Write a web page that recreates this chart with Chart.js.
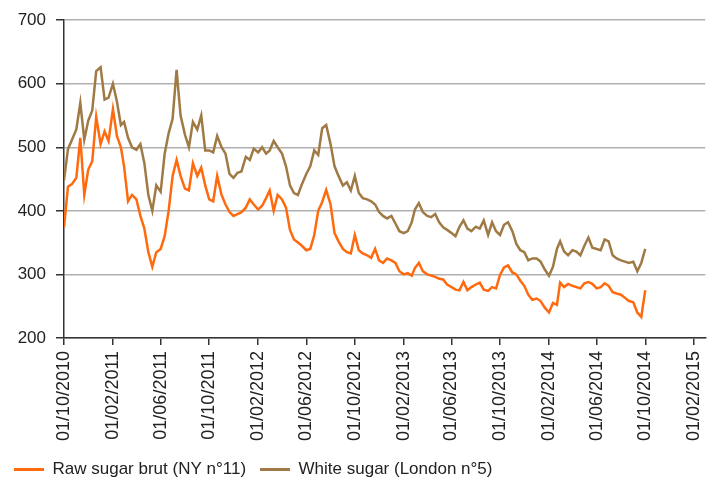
<!DOCTYPE html>
<html lang="en">
<head>
<meta charset="UTF-8">
<title>Raw vs white sugar</title>
<script src="https://cdn.jsdelivr.net/npm/chart.js@4.4.0/dist/chart.umd.min.js"></script>
<style>
  html, body { margin: 0; padding: 0; background: #fff; }
</style>
</head>
<body>
<canvas id="sugar" width="722" height="490"></canvas>
<script>
    // price dates, 3 per month (dd/mm/yyyy)
    const dates = [
        '01/10/2010','11/10/2010','21/10/2010','01/11/2010','11/11/2010','21/11/2010','01/12/2010','11/12/2010','21/12/2010',
        '01/01/2011','11/01/2011','21/01/2011','01/02/2011','11/02/2011','21/02/2011','01/03/2011','11/03/2011','21/03/2011',
        '01/04/2011','11/04/2011','21/04/2011','01/05/2011','11/05/2011','21/05/2011','01/06/2011','11/06/2011','21/06/2011',
        '01/07/2011','11/07/2011','21/07/2011','01/08/2011','11/08/2011','21/08/2011','01/09/2011','11/09/2011','21/09/2011',
        '01/10/2011','11/10/2011','21/10/2011','01/11/2011','11/11/2011','21/11/2011','01/12/2011','11/12/2011','21/12/2011',
        '01/01/2012','11/01/2012','21/01/2012','01/02/2012','11/02/2012','21/02/2012','01/03/2012','11/03/2012','21/03/2012',
        '01/04/2012','11/04/2012','21/04/2012','01/05/2012','11/05/2012','21/05/2012','01/06/2012','11/06/2012','21/06/2012',
        '01/07/2012','11/07/2012','21/07/2012','01/08/2012','11/08/2012','21/08/2012','01/09/2012','11/09/2012','21/09/2012',
        '01/10/2012','11/10/2012','21/10/2012','01/11/2012','11/11/2012','21/11/2012','01/12/2012','11/12/2012','21/12/2012',
        '01/01/2013','11/01/2013','21/01/2013','01/02/2013','11/02/2013','21/02/2013','01/03/2013','11/03/2013','21/03/2013',
        '01/04/2013','11/04/2013','21/04/2013','01/05/2013','11/05/2013','21/05/2013','01/06/2013','11/06/2013','21/06/2013',
        '01/07/2013','11/07/2013','21/07/2013','01/08/2013','11/08/2013','21/08/2013','01/09/2013','11/09/2013','21/09/2013',
        '01/10/2013','11/10/2013','21/10/2013','01/11/2013','11/11/2013','21/11/2013','01/12/2013','11/12/2013','21/12/2013',
        '01/01/2014','11/01/2014','21/01/2014','01/02/2014','11/02/2014','21/02/2014','01/03/2014','11/03/2014','21/03/2014',
        '01/04/2014','11/04/2014','21/04/2014','01/05/2014','11/05/2014','21/05/2014','01/06/2014','11/06/2014','21/06/2014',
        '01/07/2014','11/07/2014','21/07/2014','01/08/2014','11/08/2014','21/08/2014','01/09/2014','11/09/2014','21/09/2014',
        '01/10/2014'
    ];

    const rawSugar = [
        374, 438, 442, 452, 515, 425, 465, 478, 548, 505,
        525, 510, 560, 518, 500, 470, 415, 425, 418, 392,
        372, 335, 312, 335, 340, 360, 400, 455, 480, 455,
        435, 432, 475, 455, 468, 440, 418, 415, 455, 425,
        410, 398, 392, 395, 398, 405, 418, 410, 402, 408,
        420, 432, 400, 425, 418, 405, 370, 355, 350, 345,
        338, 340, 362, 400, 414, 433, 410, 365, 352, 340,
        335, 333, 362, 338, 333, 330, 326, 340, 322, 318,
        325, 322, 318, 305, 300, 302, 298, 310, 318, 305,
        300, 298, 296, 293, 292, 284, 280, 276, 275, 288,
        275, 280, 284, 287, 276, 274, 280, 278, 299, 311,
        314, 303, 300, 290, 282, 268, 260, 262, 258, 248,
        240, 255, 252, 287, 280, 285, 282, 280, 278, 286,
        288, 285, 278, 280, 286, 282, 272, 270, 268, 263,
        258, 256, 240, 233, 275
    ];

    const whiteSugar = [
        448, 497, 512, 528, 570, 512, 542, 558, 620, 626,
        575, 578, 600, 572, 535, 540, 515, 500, 496, 505,
        475, 425, 400, 440, 430, 490, 522, 545, 622, 550,
        520, 500, 540, 528, 550, 495, 495, 492, 518, 500,
        490, 458, 452, 460, 462, 485, 480, 498, 492, 500,
        490, 495, 510, 500, 490, 470, 440, 428, 425, 442,
        458, 470, 495, 488, 530, 535, 505, 470, 455, 440,
        445, 432, 455, 428, 420, 418, 415, 410, 398, 392,
        388, 392, 380, 368, 365, 368, 382, 402, 412, 398,
        392, 390, 395, 382, 374, 370, 365, 360, 375, 385,
        372, 368, 375, 372, 385, 362, 382, 368, 362, 378,
        382, 368, 348, 338, 335, 322, 325, 325, 320, 308,
        298, 312, 340, 352, 336, 330, 338, 336, 330, 345,
        358, 342, 340, 338, 355, 352, 330, 325, 322, 320,
        318, 320, 305, 318, 340
    ];

    const tickDates = ['01/10/2010', '01/02/2011', '01/06/2011', '01/10/2011', '01/02/2012', '01/06/2012', '01/10/2012',
        '01/02/2013', '01/06/2013', '01/10/2013', '01/02/2014', '01/06/2014', '01/10/2014', '01/02/2015'];
    const axisEnd = '01/03/2015';
    const seriesNames = ['Raw sugar brut (NY n°11)', 'White sugar (London n°5)'];

    // days since first date, so the x axis is a plain linear scale
    function dayOf(s) {
        let p = s.split('/');
        return (Date.UTC(+p[2], +p[1] - 1, +p[0]) - Date.UTC(2010, 9, 1)) / 864e5;
    }

    function toPoints(values) {
        return values.map((v, i) => ({ x: dayOf(dates[i]), y: v }));
    }

    const font = 'Liberation Sans, Arial, sans-serif';
    const orange = '#ff6a0e';
    const brown = '#a07a45';

    new Chart(document.getElementById('sugar').getContext('2d'), {
        type: 'line',
        data: {
            datasets: [{
                label: seriesNames[0],
                data: toPoints(rawSugar),
                borderColor: orange,
                backgroundColor: orange,
                borderWidth: 2.5,
                pointRadius: 0,
                tension: 0
            }, {
                label: seriesNames[1],
                data: toPoints(whiteSugar),
                borderColor: brown,
                backgroundColor: brown,
                borderWidth: 2.5,
                pointRadius: 0,
                tension: 0
            }]
        },
        options: {
            responsive: false,
            animation: false,
            devicePixelRatio: 1,
            layout: { padding: { left: 0, right: 12, top: 10, bottom: 2 } },
            plugins: {
                tooltip: { enabled: false },
                legend: {
                    position: 'bottom',
                    align: 'start',
                    labels: {
                        boxWidth: 30,
                        boxHeight: 3,
                        padding: 14,
                        color: '#222',
                        font: { family: font, size: 17 },
                        generateLabels: chart => chart.data.datasets.map((ds, i) => ({
                            text: ds.label,
                            fillStyle: ds.borderColor,
                            strokeStyle: ds.borderColor,
                            lineWidth: 0,
                            hidden: false,
                            datasetIndex: i,
                            fontColor: '#222'
                        }))
                    }
                }
            },
            scales: {
                x: {
                    type: 'linear',
                    min: 0,
                    max: dayOf(axisEnd),
                    afterBuildTicks: scale => {
                        scale.ticks = tickDates.map(d => ({ value: dayOf(d) }));
                    },
                    ticks: {
                        autoSkip: false,
                        maxRotation: 90,
                        minRotation: 90,
                        padding: 6,
                        color: '#222',
                        font: { family: font, size: 18 },
                        callback: (v, i) => tickDates[i]
                    },
                    grid: { drawOnChartArea: false, tickLength: 7, tickColor: '#333', lineWidth: 1.5 },
                    border: { color: '#333', width: 1.5 }
                },
                y: {
                    min: 200,
                    max: 700,
                    afterFit: scale => { scale.width = 64; },
                    ticks: {
                        stepSize: 100,
                        padding: 10,
                        color: '#222',
                        font: { family: font, size: 17 }
                    },
                    grid: { color: '#b0b0b0', lineWidth: 1.5, tickLength: 8, tickColor: '#333' },
                    border: { color: '#333', width: 1.5 }
                }
            }
        }
    });
</script>
</body>
</html>
